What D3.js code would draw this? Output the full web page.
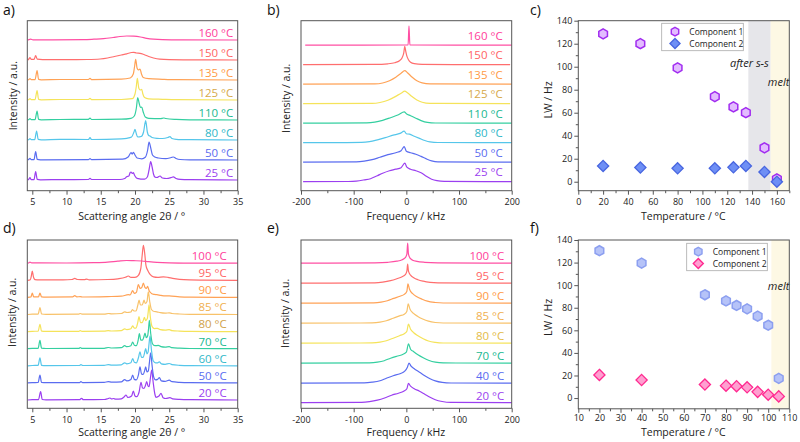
<!DOCTYPE html>
<html><head><meta charset="utf-8">
<script src="https://cdn.jsdelivr.net/npm/d3@7"></script>
<style>
body{margin:0;background:#fff}
svg{display:block}
text{font-family:"Open Sans",sans-serif}
.tick line{stroke:#555}
.tick text{font-size:9px;fill:#222;font-family:"Open Sans",sans-serif}
</style>
</head><body>
<script>
// ---------- Panel a: XRD (heating) ----------
const A_LABELS = ["25 °C","50 °C","80 °C","110 °C","125 °C","135 °C","150 °C","160 °C"];
const A_OFFSETS = [0,20,40,60,80,100,120,140];
const A_25 = [[4.35,0],[4.5,0.8],[4.66,2.3],[4.85,0.3],[5.25,0.3],[5.49,8.3],[5.72,0.6],[6.2,0.2],[9.0,0.4],[13.2,0.5],[13.43,1.7],[13.65,0.5],[17.8,0.5],[18.5,1.5],[18.78,3.3],[19.1,4],[19.3,7.5],[19.42,8],[19.6,6.5],[19.76,7.3],[19.95,4.5],[20.3,1.7],[21.4,0.8],[21.8,3],[22.05,10],[22.29,18.3],[22.5,13],[22.7,6],[22.9,3],[23.2,2.5],[23.66,4],[24.0,2],[24.6,1.5],[25.3,2.5],[25.6,3.2],[26.0,1.5],[26.6,0.6],[28,0.3],[35,0]];
const A_50 = [[4.35,0],[4.5,0.8],[4.66,1.7],[4.85,0.3],[5.25,0.3],[5.49,8.3],[5.72,0.6],[6.2,0.2],[13.2,0.4],[13.43,1.3],[13.65,0.4],[18.2,0.8],[19.0,3],[19.42,7.3],[19.6,6],[19.76,7.7],[20.0,5],[20.3,2],[21.0,1.2],[21.5,2.7],[21.85,10],[22.05,18],[22.3,12],[22.55,5],[22.9,3],[23.4,2],[24.5,1.3],[25.3,2.5],[25.6,3],[26,1.5],[26.6,0.5],[28,0.2],[35,0]];
const A_80 = [[4.35,0],[4.5,0.6],[4.66,1.3],[4.85,0.3],[5.35,0.3],[5.63,9],[5.86,0.6],[6.3,0.2],[9.0,0.6],[13.2,0.5],[13.43,2.3],[13.65,0.5],[18.0,1.2],[18.8,1.7],[19.5,3],[19.85,8],[20.0,10.7],[20.2,6],[20.4,3],[20.9,3.5],[21.25,8],[21.56,19.3],[21.8,8],[22.0,4.5],[22.19,4],[22.5,2.5],[23.2,1.7],[24,1.5],[24.8,2.5],[25.1,3.3],[25.4,1.5],[26,0.7],[28,0.3],[35,0]];
const A_110 = [[4.35,0],[4.5,0.6],[4.66,1.3],[4.85,0.3],[5.4,0.3],[5.7,9],[5.92,0.6],[6.3,0.2],[9.0,0.5],[13.2,0.6],[13.43,2],[13.65,0.5],[18,0.8],[19.4,1.7],[19.9,4],[20.2,12],[20.4,22.3],[20.6,17],[20.8,12.5],[20.98,13],[21.2,8],[21.5,3],[22,1.7],[23.7,1.3],[24.2,2],[24.5,1.5],[26,0.6],[28,0.2],[35,0]];
const A_125 = [[4.35,0],[4.5,0.6],[4.66,1.3],[4.85,0.3],[5.4,0.3],[5.7,9.3],[5.92,0.6],[6.3,0.2],[9.0,0.5],[13.2,0.5],[13.43,1.7],[13.65,0.4],[18,0.5],[19.6,1.3],[20.0,6],[20.2,14],[20.34,21.7],[20.55,12],[20.75,10],[20.98,10.7],[21.15,6],[21.4,2.5],[22,1.2],[24.0,0.7],[26,0.3],[35,0]];
const A_135 = [[4.35,0],[4.5,0.6],[4.66,1.3],[4.85,0.3],[5.4,0.3],[5.7,9.3],[5.92,0.6],[6.3,0.2],[9.0,0.5],[13.2,0.5],[13.43,1.7],[13.65,0.4],[18,0.8],[19.3,2],[19.75,6],[19.95,14],[20.1,20.7],[20.3,12],[20.5,10],[20.73,11],[20.95,6],[21.2,2.5],[22,1.3],[24,0.7],[26,0.3],[35,0]];
const A_150 = [[4.35,0],[4.5,1],[4.66,2.3],[4.85,0.6],[5.25,0.6],[5.49,4.3],[5.72,0.8],[6.5,0.4],[10,0.3],[13,0.5],[14.9,1],[16,2],[17,3.5],[18,5],[18.8,6.2],[19.5,7.5],[19.8,7.7],[20.2,7],[20.73,6.7],[21.3,5.5],[22,3.5],[22.7,2],[23.6,0.8],[25,0.3],[28,0.1],[35,0]];
const A_160 = [[4.35,0],[4.5,0.4],[4.76,0.8],[5.1,0.2],[8,0.2],[12.45,0.4],[14,0.8],[15.4,1.3],[16.8,2.5],[17.8,3.5],[18.8,4],[19.8,3.8],[20.8,3],[21.7,1.7],[22.7,0.8],[24,0.3],[27,0.1],[35,0]];

// ---------- Panel b: NMR (heating) ----------
const B_LABELS = A_LABELS;
const B_OFFSETS = [0,19.5,39,58.5,78,97.5,117,136.5];
const B_25 = [[-196,0],[-110,0.2],[-95,0.6],[-80,1.8],[-68,3],[-55,6],[-45,8.5],[-32,11],[-20,12.5],[-10,14],[-3,18.5],[1,14.5],[8,12.5],[18,11],[28,9],[38,5.5],[48,2.5],[58,1],[72,0.3],[200,0]];
const B_50 = [[-196,0],[-95,0.3],[-80,1],[-65,2.5],[-50,5],[-35,7.5],[-20,9.5],[-10,11.5],[-4,15.5],[0,11],[8,9.5],[18,8],[28,5.8],[38,3.3],[48,1.3],[60,0.3],[200,0]];
const B_80 = [[-196,0],[-85,0.3],[-70,1],[-55,2.8],[-40,5],[-25,7.5],[-12,9.3],[-4,11.5],[0,9],[6,8.5],[15,6.5],[25,4.3],[35,2.2],[45,0.8],[60,0.2],[200,0]];
const B_110 = [[-196,0],[-75,0.3],[-60,1],[-45,2.8],[-30,5.5],[-15,8.5],[-4,11.3],[0,9.5],[8,7.5],[18,5],[28,2.6],[40,0.8],[55,0.2],[200,0]];
const B_125 = [[-196,0],[-65,0.3],[-50,1.2],[-35,3.5],[-22,6.8],[-10,10.5],[-3,12.5],[2,11],[10,7.5],[20,3.8],[30,1.5],[45,0.3],[197,0]];
const B_135 = [[-196,0],[-60,0.3],[-45,1.2],[-32,3.5],[-20,7],[-10,11],[-3,13.5],[2,11.5],[10,7.5],[20,3.5],[30,1.3],[45,0.3],[200,0]];
const B_150 = [[-196,0],[-60,0.3],[-35,0.9],[-22,2],[-13,4],[-8,7],[-5,11.5],[-3,18.3],[-1,13],[1,8.5],[4,5],[8,2.5],[15,1],[30,0.3],[197,0]];
const B_160 = [[-192,0],[3.3,0.2],[5,19.3],[6.7,0.2],[200,0]];

// ---------- Panel d: XRD (second sample) ----------
const D_LABELS = ["20 °C","50 °C","60 °C","70 °C","80 °C","85 °C","90 °C","95 °C","100 °C"];
const D_OFFSETS = [0,17.1,34.2,51.3,68.4,85.5,102.6,119.7,136.8];
const D_20 = [[4.35,0],[5.0,0.3],[5.9,0.4],[6.22,8.3],[6.45,0.5],[7,0.2],[11.9,0.3],[12.2,1.7],[12.45,0.3],[15.5,0.5],[16.1,1.5],[16.35,2],[16.6,1],[16.84,1.5],[17.2,0.8],[18,1.2],[18.4,3],[18.69,5],[18.95,2.5],[19.5,4],[19.76,9],[20.0,4],[20.25,3.3],[20.6,8],[20.88,17.7],[21.1,12],[21.32,11.7],[21.5,14],[21.71,18.3],[21.9,14],[22.05,13.3],[22.25,22],[22.44,30],[22.65,18],[22.9,6],[23.07,2.7],[23.5,4],[23.8,6.7],[24.1,2.3],[24.5,1.5],[25.1,2.3],[25.5,1.2],[26.5,0.6],[28,0.3],[35,0]];
const D_50 = [[4.35,0],[5.0,0.3],[5.85,0.4],[6.12,7.7],[6.35,0.5],[7,0.2],[11.9,0.3],[12.1,1.3],[12.35,0.3],[15.5,0.5],[16.1,1.3],[16.6,0.8],[18,1],[18.5,3.3],[18.8,2],[19.4,3.5],[19.66,7.7],[19.9,3.5],[20.2,3],[20.5,8],[20.73,16],[20.95,9],[21.2,8.5],[21.4,12],[21.56,16],[21.75,11],[21.95,12],[22.1,20],[22.29,30],[22.5,17],[22.75,5.5],[23.0,3],[23.3,3.5],[23.56,5.3],[23.85,2],[24.4,1.5],[25.0,2.7],[25.4,1.2],[26.5,0.5],[28,0.2],[35,0]];
const D_60 = [[4.35,0],[5.0,0.3],[5.85,0.4],[6.12,8],[6.35,0.5],[7,0.2],[11.9,0.3],[12.1,1.3],[12.35,0.3],[15.5,0.4],[16.1,1.2],[16.6,0.7],[18,1],[18.5,3],[18.8,2],[19.4,3],[19.66,7.3],[19.9,3.5],[20.2,3],[20.5,8],[20.73,14],[20.95,8.5],[21.2,8.5],[21.4,13],[21.56,17.3],[21.75,12],[21.92,14],[22.05,22],[22.19,29.7],[22.4,16],[22.65,5],[23,3],[23.3,3],[23.56,4],[23.85,2],[24.4,1.5],[25,2.3],[25.4,1.2],[26.5,0.5],[28,0.2],[35,0]];
const D_70 = [[4.35,0],[5.0,0.3],[5.85,0.4],[6.12,8.3],[6.35,0.5],[7,0.2],[11.8,0.3],[12.0,1.2],[12.25,0.3],[15.5,0.4],[16.1,1.2],[16.6,0.7],[18,1],[18.5,3],[18.8,2],[19.4,3],[19.66,6.7],[19.9,3.5],[20.2,3],[20.45,8],[20.64,15],[20.85,8.5],[21.1,8.5],[21.3,12],[21.46,15.7],[21.65,11],[21.85,13],[21.98,20],[22.1,28.3],[22.3,15],[22.55,5],[22.9,3],[23.41,3.3],[23.8,2],[24.4,1.5],[25,2],[25.4,1],[26.5,0.5],[28,0.2],[35,0]];
const D_80 = [[4.35,0],[5.0,0.3],[5.85,0.4],[6.12,7.3],[6.35,0.5],[7,0.2],[11.8,0.3],[12.0,1],[12.25,0.3],[15.5,0.4],[16.1,1],[16.6,0.6],[18,1],[18.5,2.7],[18.8,2],[19.4,2.8],[19.66,5.7],[19.9,3.5],[20.15,3.5],[20.4,9],[20.59,15],[20.8,9],[21.05,9],[21.25,12],[21.37,14.3],[21.55,11],[21.8,13],[21.92,19],[22.05,26.7],[22.25,14],[22.5,5],[22.85,3],[23.27,3.3],[23.7,2],[24.4,1.5],[25,2],[25.4,1],[26.5,0.5],[28,0.2],[35,0]];
const D_85 = [[4.35,0],[5.0,0.3],[5.85,0.4],[6.12,7],[6.35,0.5],[7,0.2],[11.8,0.3],[12.0,1],[12.25,0.3],[15.5,0.4],[16.1,1],[16.6,0.6],[18,1],[18.5,2.7],[18.8,2],[19.4,2.5],[19.62,5],[19.85,3.5],[20.15,3.5],[20.4,9],[20.59,14.3],[20.8,9.5],[21.05,9.5],[21.2,12],[21.32,14.3],[21.5,11],[21.75,13],[21.95,22.7],[22.15,13],[22.4,5],[22.8,3],[23.2,2.7],[23.7,1.8],[24.4,1.3],[25,1.7],[25.4,1],[26.5,0.5],[28,0.2],[35,0]];
const D_90 = [[4.35,0],[4.8,0.5],[5.0,4.3],[5.2,0.5],[5.9,0.5],[6.12,4.3],[6.35,0.5],[7,0.3],[10.9,0.5],[11.2,1.7],[11.5,0.5],[12,0.8],[12.4,0.4],[16,0.8],[18,1.2],[19.03,2.7],[19.3,2.5],[19.66,6.7],[19.9,4],[20.2,5],[20.49,12.7],[20.75,9],[21.0,10],[21.22,14.3],[21.45,10],[21.65,9],[21.85,11],[22.05,7],[22.4,4],[22.8,3],[23.2,2.7],[23.8,2],[24.4,1.5],[25,1.5],[26.5,0.5],[28,0.2],[35,0]];
const D_95 = [[4.35,0],[4.7,0.6],[4.85,4],[5.0,9.3],[5.15,4],[5.4,0.6],[6,0.4],[9.5,0.4],[10.8,0.8],[11.2,2],[11.6,0.8],[12.6,0.6],[12.94,1.2],[13.3,0.5],[16,0.8],[17.5,1.5],[18.6,3],[19.03,4.3],[19.4,3],[20,3],[20.5,5],[20.85,12],[21.05,25],[21.22,35],[21.4,28],[21.6,15],[21.85,10],[22.2,6],[22.7,3.5],[23.3,3],[24.14,3.5],[24.8,3],[25.5,2],[26.5,1],[28,0.4],[30,0.2],[35,0]];
const D_100 = [[4.35,0],[4.5,0.5],[4.66,1],[4.9,0.4],[6,0.3],[10,0.2],[14,0.5],[16,1],[17.5,2],[18.78,2.7],[19.8,2.5],[21,2.2],[22,1.5],[23.2,0.8],[25,0.3],[28,0.1],[35,0]];

// ---------- Panel e: NMR (second sample) ----------
const E_LABELS = ["20 °C","40 °C","70 °C","80 °C","85 °C","90 °C","95 °C","100 °C"];
const E_OFFSETS = [0,19.5,39.5,59.5,79.5,99.5,119.5,139.5];
const E_20 = [[-200,0],[-85,0.3],[-70,1],[-55,2.5],[-40,5],[-28,7.5],[-15,9.5],[-5,11.5],[1,14],[4,19.3],[8,16.5],[15,14],[25,11.5],[35,8.5],[45,5.5],[55,3],[68,1.2],[85,0.3],[200,0]];
const E_40 = [[-200,0],[-80,0.3],[-65,1],[-50,2.5],[-38,5],[-25,7.5],[-12,9.5],[-3,12],[2,16],[5,20],[9,17],[16,14],[25,11],[35,7.5],[45,4.5],[55,2.3],[68,0.8],[85,0.2],[200,0]];
const E_70 = [[-200,0],[-70,0.3],[-55,1],[-42,2.5],[-30,5],[-18,7],[-8,8.5],[0,11],[4,19.3],[8,14],[14,11.5],[22,8.5],[32,5.5],[42,3],[55,1],[70,0.3],[200,0]];
const E_80 = [[-200,0],[-65,0.3],[-50,1],[-38,2.5],[-25,5],[-13,7.5],[-4,9.5],[1,12],[4,19],[8,14],[14,10.5],[22,7.5],[32,4.5],[42,2.2],[55,0.8],[70,0.2],[200,0]];
const E_85 = [[-200,0],[-65,0.3],[-50,1],[-38,2.5],[-25,5],[-13,7.3],[-4,9],[1,12],[3.5,19.3],[7,14],[13,10],[21,7],[31,4.2],[42,2],[55,0.7],[70,0.2],[200,0]];
const E_90 = [[-200,0],[-62,0.3],[-48,1],[-36,2.5],[-24,4.8],[-12,7],[-4,8.8],[1,12],[3,19.3],[6,14],[12,9.5],[20,6.5],[30,4],[40,2],[55,0.7],[70,0.2],[200,0]];
const E_95 = [[-200,0],[-60,0.3],[-45,1],[-30,2.5],[-18,4.5],[-8,6.5],[-2,8.5],[1,12],[2.5,19],[4,12],[8,8],[14,5.5],[22,3.5],[32,2],[45,0.8],[60,0.3],[200,0]];
const E_100 = [[-200,0],[-60,0.4],[-35,0.9],[-18,2],[-8,3.5],[-2,5.5],[1,9],[2.5,20],[4,9],[7,5],[12,3],[20,1.8],[35,0.9],[60,0.4],[200,0]];

// ---------- Panel c / f: linewidths ----------
const C_TEMP = [20,50,80,110,125,135,150,160];
const C_COMP1 = [128.5,120,99,74,65,60,29.5,2.5];
const C_COMP2 = [13.7,12.3,11.7,11.7,12.5,13.7,8.5,0];
const F_TEMP = [20,40,70,80,85,90,95,100,105];
const F_COMP1 = [130.5,119.5,91.5,86,82,79,72.5,64.5,17.5];
const F_COMP2 = [20.5,16,12,11,10.5,9.5,5.5,3,1.5];
const SERIES_NAMES = ["Component 1","Component 2"];

// ticks
const XRD_MAJOR = [5,10,15,20,25,30,35];
const XRD_MINOR = [7.5,12.5,17.5,22.5,27.5,32.5];
const FREQ_MAJOR = [-200,-100,0,100,200];
const FREQ_MINOR = [-150,-50,50,150];
const C_XMAJOR = [0,20,40,60,80,100,120,140,160];
const C_XMINOR = [10,30,50,70,90,110,130,150,170];
const F_XMAJOR = [10,20,30,40,50,60,70,80,90,100,110];
const F_XMINOR = [15,25,35,45,55,65,75,85,95,105];
const LW_MAJOR = [0,20,40,60,80,100,120,140];
const LW_MINOR = [10,30,50,70,90,110,130];

// colours
const COL_A = ["#9b3ff0","#5a6cf0","#55c6ea","#34cfa0","#f5e35a","#ffa256","#ff6e6e","#ff4fa3"];
const LCOL_A = ["#9b3ff0","#5a6cf0","#2fb7c8","#20b890","#d6a94a","#ff9a45","#ff6464","#ff3d9a"];
const COL_D = ["#9b3ff0","#5a6cf0","#55c6ea","#34cfa0","#f5e35a","#f8c26a","#ffa256","#ff6e6e","#ff4fa3"];
const LCOL_D = ["#9b3ff0","#5a6cf0","#2fb7c8","#20b890","#d0a24a","#f0b050","#ff9a45","#ff6464","#ff3d9a"];
const COL_E = ["#9b3ff0","#5a6cf0","#34cfa0","#f5e35a","#f8c26a","#ffa256","#ff6e6e","#ff4fa3"];
const LCOL_E = ["#9b3ff0","#5a6cf0","#20b890","#e3bb48","#f0b050","#ff9a45","#ff6464","#ff3d9a"];

const svg = d3.select("body").append("svg").attr("width",800).attr("height",442);
const FRAME = "#555";

function xAxis(x, yPos, majors, minors, pad){
  svg.append("g").attr("transform",`translate(0,${yPos})`)
    .call(d3.axisBottom(x).tickValues(minors).tickSize(2.5).tickFormat(""))
    .call(g=>g.select(".domain").remove());
  svg.append("g").attr("transform",`translate(0,${yPos})`)
    .call(d3.axisBottom(x).tickValues(majors).tickSize(4).tickPadding(pad).tickFormat(d=>String(d)))
    .call(g=>g.select(".domain").remove());
}
function yAxis(y, xPos, majors, minors){
  svg.append("g").attr("transform",`translate(${xPos},0)`)
    .call(d3.axisLeft(y).tickValues(minors).tickSize(2.5).tickFormat(""))
    .call(g=>g.select(".domain").remove());
  svg.append("g").attr("transform",`translate(${xPos},0)`)
    .call(d3.axisLeft(y).tickValues(majors).tickSize(4).tickPadding(2).tickFormat(d=>String(d)))
    .call(g=>g.select(".domain").remove());
}
function frame(L,R,T,B){
  svg.append("rect").attr("x",L).attr("y",T).attr("width",R-L).attr("height",B-T)
    .attr("fill","none").attr("stroke",FRAME).attr("stroke-width",1);
}
function title(x,y,txt,rot){
  const t = svg.append("text").attr("font-size",10.5).attr("fill","#222").attr("text-anchor","middle").text(txt);
  if(rot) t.attr("transform",`translate(${x},${y}) rotate(-90)`); else t.attr("x",x).attr("y",y);
}
function panelLetter(x,y,txt){
  svg.append("text").attr("x",x).attr("y",y).attr("font-size",14).attr("fill","#111").text(txt);
}

function spectra(p){
  const x = d3.scaleLinear().domain(p.xDomain).range([p.L,p.R]);
  const y = d3.scaleLinear().domain(p.yDomain).range([p.B,p.T]);
  p.traces.forEach((tr,i)=>{
    const off = p.offsets[i];
    svg.append("path").datum(tr).attr("fill","none").attr("stroke",p.colors[i])
      .attr("stroke-width",1.2).attr("stroke-linejoin","round")
      .attr("d", d3.line().x(d=>x(d[0])).y(d=>y(d[1]+off)).curve(d3.curveMonotoneX));
  });
  p.traces.forEach((tr,i)=>{
    svg.append("text").attr("x",p.labelX).attr("y",y(p.offsets[i])+p.labelShift)
      .attr("text-anchor","end").attr("font-size",11.5).attr("fill",p.labelColors[i]).text(p.labels[i]);
  });
  frame(p.L,p.R,p.T,p.B);
  xAxis(x, p.B, p.majors, p.minors, p.pad);
}

// a
spectra({xDomain:[4.27,35], yDomain:[-10.7,159.3], L:27.3,R:237.7,T:20.7,B:190.7,
  traces:[A_25,A_50,A_80,A_110,A_125,A_135,A_150,A_160], offsets:A_OFFSETS,
  colors:COL_A, labelColors:LCOL_A, labels:A_LABELS, labelX:233.3, labelShift:-2.6,
  majors:XRD_MAJOR, minors:XRD_MINOR, pad:4});
// b
spectra({xDomain:[-200,200], yDomain:[-9,161], L:301,R:511.7,T:20.7,B:190.7,
  traces:[B_25,B_50,B_80,B_110,B_125,B_135,B_150,B_160], offsets:B_OFFSETS,
  colors:COL_A, labelColors:LCOL_A, labels:B_LABELS, labelX:502.7, labelShift:-5.5,
  majors:FREQ_MAJOR, minors:FREQ_MINOR, pad:4});
// d
spectra({xDomain:[4.27,35], yDomain:[-8.3,160], L:27.3,R:237.7,T:240,B:408.3,
  traces:[D_20,D_50,D_60,D_70,D_80,D_85,D_90,D_95,D_100], offsets:D_OFFSETS,
  colors:COL_D, labelColors:LCOL_D, labels:D_LABELS, labelX:226.7, labelShift:-3.2,
  majors:XRD_MAJOR, minors:XRD_MINOR, pad:4});
// e
spectra({xDomain:[-200,200], yDomain:[-5.6,162.7], L:301,R:511.7,T:240,B:408.3,
  traces:[E_20,E_40,E_70,E_80,E_85,E_90,E_95,E_100], offsets:E_OFFSETS,
  colors:COL_E, labelColors:LCOL_E, labels:E_LABELS, labelX:504.3, labelShift:-3,
  majors:FREQ_MAJOR, minors:FREQ_MINOR, pad:4});

// markers
function hexPath(r){
  const pts = d3.range(6).map(k=>{const a=Math.PI/180*(-90+60*k); return [r*Math.cos(a), r*Math.sin(a)];});
  return "M"+pts.map(p=>p.join(",")).join("L")+"Z";
}
function diaPath(r){ return `M0,${-r}L${r},0L0,${r}L${-r},0Z`; }

function lwPanel(p){
  const x = d3.scaleLinear().domain(p.xDomain).range([p.L,p.R]);
  const y = d3.scaleLinear().domain(p.yDomain).range([p.B,p.T]);
  p.bands.forEach(b=>{
    svg.append("rect").attr("x",x(b[0])).attr("y",p.T).attr("width",x(b[1])-x(b[0])).attr("height",p.B-p.T).attr("fill",b[2]);
  });
  p.notes.forEach(n=>{
    svg.append("text").attr("x",x(n[0])).attr("y",n[1]).attr("font-size",11).attr("font-style","italic")
      .attr("fill","#222").attr("text-anchor","end").text(n[2]);
  });
  const s2 = p.temp.map((t,i)=>[t,p.c2[i]]);
  const s1 = p.temp.map((t,i)=>[t,p.c1[i]]);
  svg.append("g").selectAll("path").data(s1).join("path")
    .attr("d",hexPath(5)).attr("transform",d=>`translate(${x(d[0])},${y(d[1])})`)
    .attr("fill",p.m1.fill).attr("stroke",p.m1.stroke).attr("stroke-width",1.5);
  svg.append("g").selectAll("path").data(s2).join("path")
    .attr("d",diaPath(5.6)).attr("transform",d=>`translate(${x(d[0])},${y(d[1])})`)
    .attr("fill",p.m2.fill).attr("stroke",p.m2.stroke).attr("stroke-width",1.3);
  frame(p.L,p.R,p.T,p.B);
  xAxis(x,p.B,p.xMajor,p.xMinor,p.pad);
  yAxis(y,p.L,LW_MAJOR,LW_MINOR);
  // legend
  const lg = p.legend;
  svg.append("rect").attr("x",lg.x).attr("y",lg.y).attr("width",lg.w).attr("height",lg.h)
    .attr("fill","#fff").attr("stroke","#aaa").attr("stroke-width",0.8);
  [p.m1,p.m2].forEach((m,i)=>{
    const cy = lg.y + 8.3 + i*12;
    svg.append("path").attr("d", i===0?hexPath(4.3):diaPath(5))
      .attr("transform",`translate(${lg.mx},${cy})`).attr("fill",m.fill).attr("stroke",m.stroke).attr("stroke-width",1.4);
    svg.append("text").attr("x",lg.tx).attr("y",cy+3).attr("font-size",8.5).attr("fill","#222").text(SERIES_NAMES[i]);
  });
}

lwPanel({xDomain:[0,170], yDomain:[-7.8,140], L:578.3,R:789.3,T:20.7,B:190.7,
  temp:C_TEMP, c1:C_COMP1, c2:C_COMP2,
  m1:{fill:"#e3bcff",stroke:"#a12cf0"}, m2:{fill:"#6e8ff5",stroke:"#4866e0"},
  bands:[[137,155,"#e6e6ea"],[155,170,"#fdf8e4"]],
  notes:[[153.5,67,"after s-s"],[170,85.5,"melt"]],
  xMajor:C_XMAJOR, xMinor:C_XMINOR, pad:4,
  legend:{x:661.7,y:23.3,w:81.6,h:27.4,mx:675,tx:689.3}});
lwPanel({xDomain:[10,110], yDomain:[-9.5,140], L:578.3,R:789.3,T:240,B:408.8,
  temp:F_TEMP, c1:F_COMP1, c2:F_COMP2,
  m1:{fill:"#b6c3f8",stroke:"#8c9ff0"}, m2:{fill:"#ff9fd0",stroke:"#ff2a90"},
  bands:[[101.5,110,"#fdf8e4"]],
  notes:[[110,290,"melt"]],
  xMajor:F_XMAJOR, xMinor:F_XMINOR, pad:1.5,
  legend:{x:686.7,y:243.3,w:80.6,h:27.4,mx:698.3,tx:712.7}});

// titles
title(131.7,220,"Scattering angle 2θ / °");
title(405.8,220,"Frequency / kHz");
title(683.3,220,"Temperature / °C");
title(131.7,435.5,"Scattering angle 2θ / °");
title(405.8,435.5,"Frequency / kHz");
title(683.3,435.5,"Temperature / °C");
title(16.5,95.7,"Intensity / a.u.",true);
title(290,98.3,"Intensity / a.u.",true);
title(552,100,"LW / Hz",true);
title(16,312.3,"Intensity / a.u.",true);
title(289,313.3,"Intensity / a.u.",true);
title(552,317.3,"LW / Hz",true);

panelLetter(3,15,"a)");
panelLetter(267,15,"b)");
panelLetter(530,15,"c)");
panelLetter(3,233,"d)");
panelLetter(267,233,"e)");
panelLetter(530,233,"f)");
</script>
</body></html>
